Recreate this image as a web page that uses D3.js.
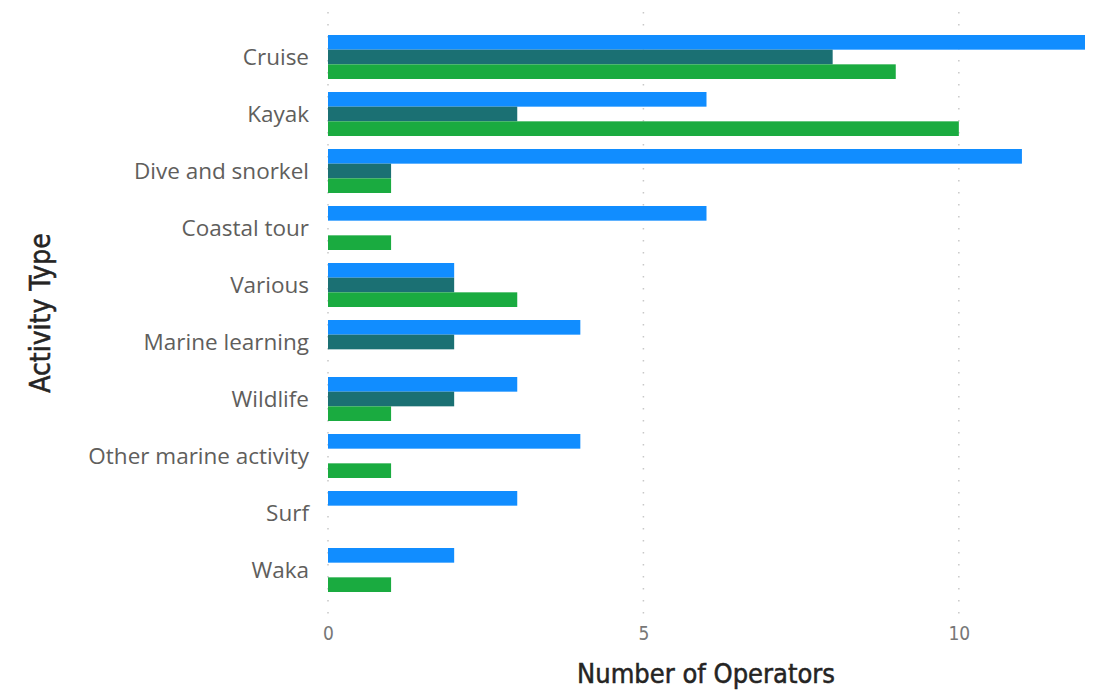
<!DOCTYPE html>
<html>
<head>
<meta charset="utf-8">
<script src="https://cdnjs.cloudflare.com/ajax/libs/d3/7.8.5/d3.min.js"></script>
<style>
  body { margin: 0; background: #fff; }
</style>
</head>
<body>
<svg id="chart" width="1100" height="691"></svg>
<script>
// activity types, top to bottom
var categories = ["Cruise", "Kayak", "Dive and snorkel", "Coastal tour", "Various",
                  "Marine learning", "Wildlife", "Other marine activity", "Surf", "Waka"];
var series = ["s1", "s2", "s3"];
var values_s1 = [12, 6, 11, 6, 2, 4, 3, 4, 3, 2];
var values_s2 = [8, 3, 1, 0, 2, 2, 2, 0, 0, 0];
var values_s3 = [9, 10, 1, 1, 3, 0, 1, 1, 0, 1];
var x_ticks = [0, 5, 10];

var colors = { "s1": "#118DFF", "s2": "#1B7073", "s3": "#1AAB40" };

var svg = d3.select("#chart");

var x = d3.scaleLinear().domain([0, 12]).range([328, 1085]);

var y = d3.scaleBand()
    .domain(categories)
    .range([28.5, 598.5])
    .paddingInner(13/57)
    .paddingOuter(6.5/57);

var ySub = d3.scaleBand().domain(series).range([0, y.bandwidth()]);

var rows = categories.map(function(c, i){
    return { cat: c, s1: values_s1[i], s2: values_s2[i], s3: values_s3[i] };
});

// dotted gridlines
svg.append("g").selectAll("line")
    .data(x_ticks)
    .enter().append("line")
    .attr("x1", function(d){ return x(d); })
    .attr("x2", function(d){ return x(d); })
    .attr("y1", 12)
    .attr("y2", 615)
    .attr("stroke", "#c8c8c8")
    .attr("stroke-width", 1.5)
    .attr("stroke-dasharray", "1.5,10.5");

// bars
var groups = svg.append("g").selectAll("g")
    .data(rows)
    .enter().append("g")
    .attr("transform", function(d){ return "translate(0," + y(d.cat) + ")"; });

groups.selectAll("rect")
    .data(function(d){
        return series.map(function(s){ return { key: s, value: d[s] }; })
                     .filter(function(e){ return e.value > 0; });
    })
    .enter().append("rect")
    .attr("x", x(0))
    .attr("y", function(d){ return ySub(d.key); })
    .attr("width", function(d){ return x(d.value) - x(0); })
    .attr("height", ySub.bandwidth())
    .attr("fill", function(d){ return colors[d.key]; });

// category labels
var yAxis = svg.append("g")
    .attr("transform", "translate(318,1)")
    .call(d3.axisLeft(y).tickSize(0).tickPadding(9));
yAxis.select(".domain").remove();
yAxis.selectAll("text")
    .style("font-family", "'Open Sans', 'Noto Sans', sans-serif")
    .style("font-size", "22.5px")
    .style("fill", "#605E5C");

// x tick labels
var xAxis = svg.append("g")
    .attr("transform", "translate(0,625)")
    .call(d3.axisBottom(x).tickValues(x_ticks).tickSize(0).tickPadding(1));
xAxis.select(".domain").remove();
xAxis.selectAll("text")
    .style("font-family", "'DejaVu Sans Condensed', 'DejaVu Sans', sans-serif")
    .style("font-size", "19px")
    .style("fill", "#777");

// axis titles
svg.append("text")
    .attr("x", 706)
    .attr("y", 683)
    .attr("text-anchor", "middle")
    .style("font-family", "'DejaVu Sans Condensed', 'DejaVu Sans', sans-serif")
    .style("font-size", "27px")
    .style("fill", "#252423")
    .style("stroke", "#252423")
    .style("stroke-width", 0.5)
    .text("Number of Operators");

svg.append("text")
    .attr("transform", "translate(50,313) rotate(-90)")
    .attr("text-anchor", "middle")
    .style("font-family", "'DejaVu Sans Condensed', 'DejaVu Sans', sans-serif")
    .style("font-size", "28px")
    .style("fill", "#252423")
    .style("stroke", "#252423")
    .style("stroke-width", 0.5)
    .text("Activity Type");
</script>
</body>
</html>
